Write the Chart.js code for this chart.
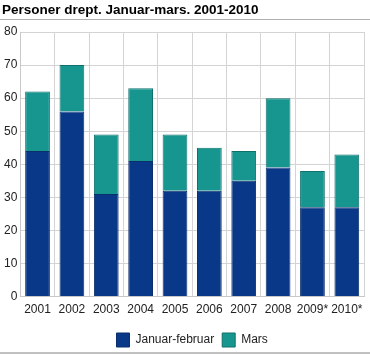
<!DOCTYPE html>
<html>
<head>
<meta charset="utf-8">
<script src="https://cdn.jsdelivr.net/npm/chart.js@4/dist/chart.umd.min.js"></script>
<style>
html,body{margin:0;padding:0;background:#fff;}
canvas{display:block;}
</style>
</head>
<body>
<canvas id="c" width="370" height="355"></canvas>
<script>
const titleText = "Personer drept. Januar-mars. 2001-2010";
const categories = ["2001","2002","2003","2004","2005","2006","2007","2008","2009*","2010*"];
const janFeb = [44,56,31,41,32,32,35,39,27,27];
const mars = [18,14,18,22,17,13,9,21,11,16];
const yTicks = [0,10,20,30,40,50,60,70,80];
const FONT = "'Liberation Sans', Arial, sans-serif";

const framePlugin = {
  id: 'frame',
  afterLayout(chart) {
    const lg = chart.legend;
    if (lg) {
      const w = lg.right - lg.left;
      const c = (chart.chartArea.left + chart.chartArea.right) / 2;
      lg.left = c - w / 2;
      lg.right = c + w / 2;
      lg.top += 2;
      lg.bottom += 2;
    }
  },
  beforeDraw(chart) {
    const ctx = chart.ctx;
    ctx.save();
    ctx.fillStyle = '#000';
    ctx.font = "bold 13.5px " + FONT;
    ctx.textBaseline = 'alphabetic';
    ctx.textAlign = 'left';
    ctx.fillText(titleText, 2, 14);
    ctx.strokeStyle = '#b0b0b0';
    ctx.lineWidth = 1;
    ctx.beginPath();
    ctx.moveTo(0, 19.5); ctx.lineTo(370, 19.5);
    ctx.stroke();
    ctx.strokeStyle = '#c0c0c0';
    ctx.lineWidth = 2;
    ctx.beginPath();
    ctx.moveTo(0, 353); ctx.lineTo(370, 353);
    ctx.stroke();
    ctx.restore();
  }
};

new Chart(document.getElementById('c'), {
  type: 'bar',
  data: {
    labels: categories,
    datasets: [
      { label: 'Januar-februar', data: janFeb, backgroundColor: '#083887', borderColor: '#0a2f6c', borderWidth: 1, borderSkipped: 'bottom' },
      { label: 'Mars', data: mars, backgroundColor: '#179690', borderColor: '#0f716c', borderWidth: 1, borderSkipped: 'bottom' }
    ]
  },
  options: {
    responsive: false,
    devicePixelRatio: 1,
    animation: false,
    layout: { padding: { top: 32, right: 6, left: 1, bottom: 0 } },
    scales: {
      x: {
        stacked: true,
        grid: { color: '#d4d4d4', lineWidth: 1, offset: true, drawTicks: false },
        border: { color: '#c8c8c8' },
        ticks: { color: '#222', font: { family: FONT, size: 12 }, padding: 6, maxRotation: 0, autoSkip: false }
      },
      y: {
        stacked: true,
        min: 0, max: 80,
        afterBuildTicks(axis) { axis.ticks = yTicks.map(v => ({ value: v })); },
        grid: { color: '#d4d4d4', lineWidth: 1, drawTicks: false },
        border: { color: '#c8c8c8' },
        ticks: { color: '#222', font: { family: FONT, size: 12 }, padding: 3 }
      }
    },
    plugins: {
      title: { display: false },
      tooltip: { enabled: false },
      legend: {
        position: 'bottom',
        labels: { color: '#222', font: { family: FONT, size: 12 }, boxWidth: 13, boxHeight: 14, padding: 8 }
      }
    }
  },
  plugins: [framePlugin]
});
</script>
</body>
</html>
